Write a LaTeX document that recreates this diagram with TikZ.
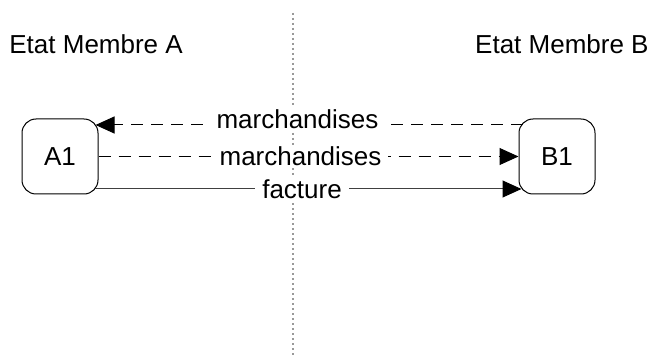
\documentclass[tikz,border=0pt]{standalone}
\usepackage{fontspec}
\setmainfont{Liberation Sans}
\usetikzlibrary{arrows.meta}
\tikzset {>={Triangle[length=9.5pt,width=8.5pt,color=black]}}

\begin{document}
\begin{tikzpicture}[x=0.5pt,y=-0.5pt,font=\fontsize{13}{15}\selectfont,
  box/.style={draw,line width=0.5pt,rounded corners=7pt,minimum width=38pt,minimum height=37.5pt,inner sep=0pt},
  flow/.style={line width=0.5pt,->},
  flowdash/.style={flow,dash pattern=on 6pt off 4pt},
  lbl/.style={fill=white,inner xsep=3.5pt,inner ysep=1pt}]
\useasboundingbox (0,0) rectangle (654,358);
\draw[gray!80,line width=1pt,dash pattern=on 1pt off 1.5pt] (293,13) -- (293,358);
\node[box] (A1) at (60,156.5) {A1};
\node[box] (B1) at (557,156.5) {B1};
\node[anchor=base west,inner sep=0pt] (EA) at (9,54) {Etat Membre A};
\node[anchor=base east,inner sep=0pt] (EB) at (649,54) {Etat Membre B};
\draw[flowdash] ([xshift=2pt,yshift=15.75pt]B1.west) -- node[lbl,pos=.527,yshift=3pt] {marchandises} ([xshift=-1.5pt,yshift=15.75pt]A1.east);
\draw[flowdash] (A1.east) -- node[lbl,pos=.481] {marchandises} (B1.west);
\draw[flow,black!75] ([xshift=-2pt,yshift=-16.25pt]A1.east) -- node[lbl,pos=.486,text=black] {facture} ([xshift=1.5pt,yshift=-16.25pt]B1.west);
\end{tikzpicture}
\end{document}
